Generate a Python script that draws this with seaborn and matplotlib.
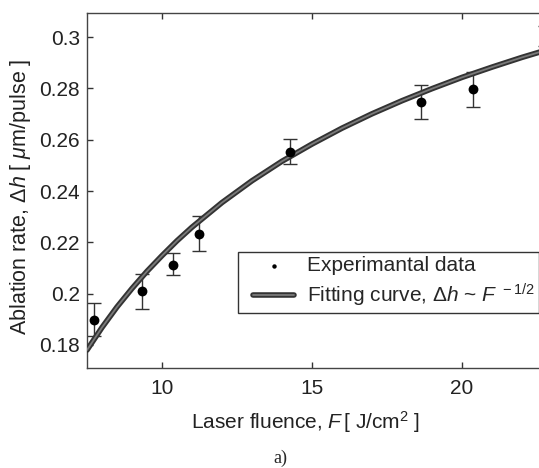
import numpy as np
import pandas as pd
import matplotlib
matplotlib.use('Agg')
import matplotlib.pyplot as plt
import matplotlib.patheffects as pe
from matplotlib.legend_handler import HandlerLine2D, HandlerPathCollection
from matplotlib.lines import Line2D
from matplotlib.collections import PathCollection
import seaborn as sns

fluence = [7.73, 9.32, 10.37, 11.23, 14.27, 18.62, 20.38, 22.75]
rate = [0.1897, 0.2009, 0.2112, 0.2231, 0.2554, 0.2747, 0.2796, 0.3005]
err_low = [0.0063, 0.0069, 0.0040, 0.0066, 0.0048, 0.0068, 0.0069, 0.0040]
err_high = [0.0068, 0.0066, 0.0048, 0.0070, 0.0048, 0.0065, 0.0069, 0.0040]

# fitting curve
fit_F = [7.5, 8.0, 8.5, 9.0, 9.5, 10.0, 10.5, 11.0, 12.0, 13.0, 14.0, 15.0,
         16.0, 17.0, 18.0, 19.0, 20.0, 21.0, 22.0, 23.0]
fit_h = [0.178, 0.1868, 0.1948, 0.202, 0.2087, 0.2148, 0.2206, 0.2259, 0.2355,
         0.244, 0.2516, 0.2583, 0.2645, 0.2701, 0.2752, 0.2799, 0.2843, 0.2883,
         0.2921, 0.2956]

points = pd.DataFrame({'F': fluence, 'h': rate})
curve = pd.DataFrame({'F': fit_F, 'h': fit_h})

sns.set_style('ticks')
plt.rcParams['font.family'] = ['Liberation Sans', 'DejaVu Sans']
plt.rcParams['mathtext.fontset'] = 'custom'
plt.rcParams['mathtext.it'] = 'Liberation Sans:italic'
plt.rcParams['mathtext.rm'] = 'Liberation Sans'

W, H = 539, 468
fig = plt.figure(figsize=(W / 100, H / 100), dpi=100)
# axes run past the right edge, the original picture is cropped there
x0, x1 = 7.5, 23.0
left, right, top, bottom = 87, 87 + (x1 - x0) * 30, 13, 368
ax = fig.add_axes([left / W, 1 - bottom / H, (right - left) / W, (bottom - top) / H])

fit_label = r'Fitting curve, $\Delta h$ ~ $F^{\ -1/2}$'
ax.errorbar(fluence, rate, yerr=[err_low, err_high], fmt='none', ecolor='#333333',
            elinewidth=1, capsize=5, capthick=1, zorder=2)
sns.lineplot(data=curve, x='F', y='h', ax=ax, color='#333333', linewidth=4,
             label=fit_label, zorder=3)
line_fx = [pe.Stroke(linewidth=4, foreground='#333333'),
           pe.Stroke(linewidth=1.3, foreground='#7a7a7a')]
ax.lines[-1].set_path_effects(line_fx)
sns.scatterplot(data=points, x='F', y='h', ax=ax, color='black', s=50,
                edgecolor='black', linewidth=0, label='Experimantal data', zorder=4)

ax.set_xlim(x0, x1)
ax.set_ylim(0.171, 0.3094)
ax.set_xticks([10, 15, 20])
ax.set_yticks([0.18, 0.2, 0.22, 0.24, 0.26, 0.28, 0.3])
ax.set_yticklabels(['0.18', '0.2', '0.22', '0.24', '0.26', '0.28', '0.3'])
ax.tick_params(direction='in', length=4, width=1, top=True, right=True,
               labelsize=15, colors='#333333', labelcolor='#222222', pad=5)
ax.tick_params(axis='x', pad=8)
for s in ax.spines.values():
    s.set_color('#444444')
    s.set_linewidth(1)

ax.set_xlabel(r'Laser fluence, $F\,$[ J/cm$^2$ ]', fontsize=15, color='#222222')
ax.xaxis.set_label_coords((306 - left) / (right - left), -0.115)
ax.set_ylabel(r'Ablation rate, $\Delta h\ $[ $\mu$m/pulse ]', fontsize=15.5, color='#222222')
ax.yaxis.set_label_coords((33 - left) / (right - left), (bottom - 196.5) / (bottom - top))

h, l = ax.get_legend_handles_labels()
order = [l.index('Experimantal data'), l.index(fit_label)]
pad = 0.53
leg = ax.legend([h[i] for i in order], [l[i] for i in order], loc='lower left',
                bbox_to_anchor=(0.325, 0.155), fontsize=15, frameon=True, fancybox=False,
                edgecolor='#333333', framealpha=1, borderaxespad=0, handlelength=2.5,
                markerscale=0.45, borderpad=0.2, labelspacing=0.3, handletextpad=0.6,
                handler_map={Line2D: HandlerLine2D(xpad=pad),
                             PathCollection: HandlerPathCollection(xpad=pad)})
leg.get_frame().set_linewidth(1)
leg.legend_handles[1].set_path_effects(line_fx)

fig.text(280 / W, 1 - 458 / H, 'a)', fontsize=13, family='Liberation Serif',
         ha='center', va='center')

fig.savefig('out.png', dpi=100)
